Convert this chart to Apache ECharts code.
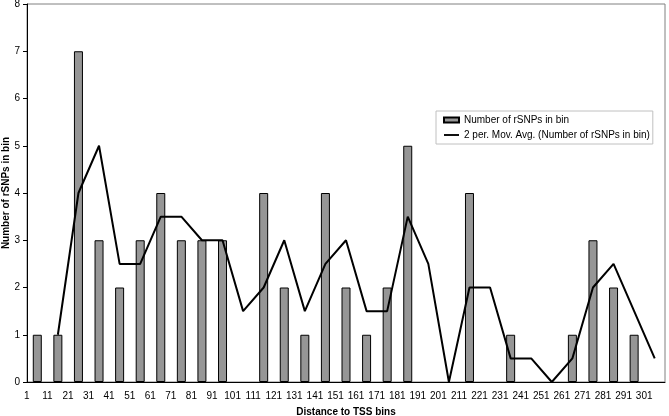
<html>
<head>
<meta charset="UTF-8" />
<title></title>
<script src="https://cdn.jsdelivr.net/npm/echarts@6/dist/echarts.min.js"></script>
<style>
html, body { margin:0; padding:0; background:#fff; }
#main { width:669px; height:416px; }
</style>
</head>
<body>
<div id="main"></div>
<script type="text/javascript">
// bin labels (left edge of each bin)
var bins = ['1','11','21','31','41','51','61','71','81','91','101','111','121','131','141','151',
            '161','171','181','191','201','211','221','231','241','251','261','271','281','291','301'];
// rSNPs per bin
var counts = [1,1,7,3,2,3,4,3,3,3,0,4,2,1,4,2,1,2,5,0,0,4,0,1,0,0,1,3,2,1,0];
// 2 period moving average, as drawn
var movAvg = [null,1,4,5,2.5,2.5,3.5,3.5,3,3,1.5,2,3,1.5,2.5,3,1.5,1.5,3.5,2.5,0,2,2,0.5,0.5,0,0.5,2,2.5,1.5,0.5];

var font = 'Liberation Sans, Arial, sans-serif';

// empty bins get no outline
var barData = counts.map(function (v) {
  return v === 0 ? { value: v, itemStyle: { borderWidth: 0 } } : v;
});

var chart = echarts.init(document.getElementById('main'));
chart.setOption({
  animation: false,
  textStyle: { fontFamily: font },
  grid: {
    left: 27, right: 4, top: 4, bottom: 34,
    containLabel: false, outerBoundsMode: 'none',
    show: true, borderColor: '#808080', borderWidth: 1,
    backgroundColor: 'transparent'
  },
  legend: {
    orient: 'vertical',
    left: 436, top: 111,
    padding: [4, 3, 4, 7],
    itemGap: 5,
    itemWidth: 15, itemHeight: 5,
    borderColor: '#c0c0c0', borderWidth: 1,
    textStyle: { fontFamily: font, fontSize: 10, color: '#000' },
    data: [
      { name: 'Number of rSNPs in bin', icon: 'rect' },
      { name: '2 per. Mov. Avg. (Number of rSNPs in bin)', icon: 'path://M0,0 L16,0 L16,2 L0,2 Z' }
    ]
  },
  xAxis: {
    type: 'category',
    data: bins,
    name: 'Distance to TSS bins',
    nameLocation: 'middle',
    nameGap: 25,
    nameMoveOverlap: false,
    nameTextStyle: { fontFamily: font, fontSize: 10, fontWeight: 'bold', color: '#000' },
    axisLine: { lineStyle: { color: '#000', width: 1 } },
    axisTick: { length: 4, lineStyle: { color: '#000' } },
    axisLabel: { interval: 0, color: '#000', fontSize: 10, fontFamily: font, margin: 9, padding: [0, 21, 0, 0] },
    splitLine: { show: false }
  },
  yAxis: {
    type: 'value',
    min: 0, max: 8, interval: 1,
    name: 'Number of rSNPs in bin',
    nameLocation: 'middle',
    nameGap: 16,
    nameMoveOverlap: false,
    nameTextStyle: { fontFamily: font, fontSize: 10, fontWeight: 'bold', color: '#000' },
    axisLine: { show: true, lineStyle: { color: '#000', width: 1 } },
    axisTick: { show: true, length: 4, lineStyle: { color: '#000' } },
    axisLabel: { color: '#000', fontSize: 10, fontFamily: font, margin: 7 },
    splitLine: { show: false }
  },
  series: [
    {
      name: 'Number of rSNPs in bin',
      type: 'bar',
      data: barData,
      barWidth: 9,
      itemStyle: { color: '#969696', borderColor: '#000', borderWidth: 1 }
    },
    {
      name: '2 per. Mov. Avg. (Number of rSNPs in bin)',
      type: 'line',
      data: movAvg,
      symbol: 'none',
      connectNulls: false,
      lineStyle: { color: '#000', width: 2 },
      itemStyle: { color: '#000' }
    }
  ]
});
</script>
</body>
</html>
